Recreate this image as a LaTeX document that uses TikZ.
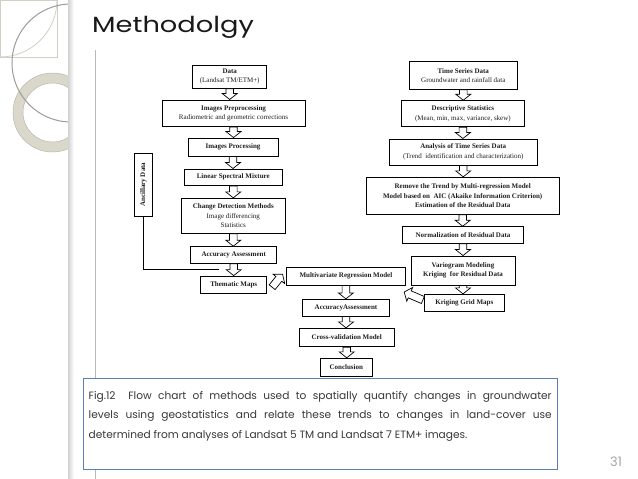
\documentclass[tikz,border=0pt]{standalone}
\usepackage{fontspec}
\usepackage{graphicx}
\setmainfont{Liberation Serif}
\newfontfamily\pop{Poppins}
\usetikzlibrary{calc}
\definecolor{capblue}{HTML}{5B80B0}
\definecolor{ringcol}{HTML}{DAD7CB}
\definecolor{ringedge}{HTML}{BDB9AA}
\definecolor{decgray}{HTML}{9C9C98}
\definecolor{declight}{HTML}{D2CFC4}
\tikzset{
  box/.style={draw=black, line width=0.9pt, fill=white, inner sep=0pt, align=center,
    font=\fontsize{7}{9.5}\selectfont, text=black!88},
  hol/.style={draw=black, fill=white, line width=0.7pt, line join=miter,
    to path={let \p1=(\tikztostart), \p2=(\tikztotarget),
      \n1={atan2(\y2-\y1,\x2-\x1)}, \n2={veclen(\x2-\x1,\y2-\y1)} in
      [shift={(\p1)}, rotate=\n1] (0,-3.8) -- ({\n2-6},-3.8) -- ({\n2-6},-7.5) -- ({\n2},0)
      -- ({\n2-6},7.5) -- ({\n2-6},3.8) -- (0,3.8) -- cycle}},
  ancline/.style={draw=black, line width=1.4pt}
}
\begin{document}
\begin{tikzpicture}[x=1pt,y=-1pt]
\useasboundingbox (0,0) rectangle (638,479);
\fill[white] (0,0) rectangle (638,479);
% decoration on the left
\begin{scope}
  \clip (0,0) rectangle (69,479);
  \fill[ringcol, even odd rule] (52.5,112.5) circle (39.5) (52.5,112.5) circle (29.5);
  \draw[ringedge, line width=0.5pt] (52.5,112.5) circle (39.5) (52.5,112.5) circle (29.5);
  \draw[declight, line width=0.7pt] (0,0) rectangle (57,57);
  \draw[declight, line width=0.8pt] (57,0) arc (0:90:57);
  \draw[decgray, line width=1pt] (71,63) circle (59);
\end{scope}
\shade[left color=gray!35, right color=white] (68,0) rectangle (74,479);
\draw[gray!55, line width=0.8pt] (95,50) -- (95,479);
% title
\node[anchor=base west, inner sep=0, font=\pop\fontsize{22}{22}\selectfont, text=black!90] (title) at (92,32) {\scalebox{1.24}[1]{Methodolgy}};
% left column
\node[box, minimum width=74, minimum height=23.3] (data) at (229.7,76.7) {\textbf{Data}\\(Landsat TM/ETM+)};
\node[box, minimum width=143, minimum height=26.7] (pre) at (233.5,113.3) {\textbf{Images Preprocessing}\\Radiometric and geometric corrections};
\node[box, minimum width=90, minimum height=18] (proc) at (233,147) {\textbf{Images Processing}};
\node[box, minimum width=98.7, minimum height=16.7] (lsm) at (233.3,177.3) {\textbf{Linear Spectral Mixture}};
\node[box, minimum width=104.7, minimum height=35] (cdm) at (233.3,215.8) {\textbf{Change Detection Methods}\\Image differencing\\Statistics};
\node[box, minimum width=86, minimum height=16.7] (acc) at (233.7,255) {\textbf{Accuracy Assessment}};
\node[box, minimum width=66, minimum height=17.3] (them) at (233.7,284.7) {\textbf{Thematic Maps}};
\node[box, minimum width=18.4, minimum height=62.7] (anc) at (143.5,184.7) {\rotatebox{90}{\textbf{Ancillary Data}}};
% right column
\node[box, minimum width=108, minimum height=27.6] (tsd) at (463.3,75.5) {\textbf{Time Series Data}\\Groundwater and rainfall data};
\node[box, minimum width=122.3, minimum height=26] (ds) at (462.9,113.7) {\textbf{Descriptive Statistics}\\(Mean, min, max, variance, skew)};
\node[box, minimum width=148.3, minimum height=26] (atsd) at (463.2,152) {\textbf{Analysis of Time Series Data}\\(Trend~ identification and characterization)};
\node[box, minimum width=193.3, minimum height=37] (rem) at (462.7,195.8) {\textbf{Remove the Trend by Multi-regression Model}\\\textbf{Model based on~ AIC (Akaike Information Criterion)}\\\textbf{Estimation of the Residual Data}};
\node[box, minimum width=120.6, minimum height=16.6] (norm) at (463,235) {\textbf{Normalization of Residual Data}};
\node[box, minimum width=104, minimum height=29] (vario) at (463,270.5) {\textbf{Variogram Modeling}\\\textbf{Kriging~ for Residual Data}};
\node[box, minimum width=80, minimum height=17.4] (kgm) at (464.3,303) {\textbf{Kriging Grid Maps}};
% centre column
\node[box, minimum width=119.7, minimum height=17.7] (multi) at (345.9,276.2) {\textbf{Multivariate Regression Model}};
\node[box, minimum width=86.6, minimum height=16.7] (acca) at (346,307.7) {\textbf{AccuracyAssessment}};
\node[box, minimum width=95.3, minimum height=18.4] (cv) at (346.7,337.5) {\textbf{Cross-validation Model}};
\node[box, minimum width=52.7, minimum height=18.4] (concl) at (346.3,367.5) {\textbf{Conclusion}};
% ancillary connector
\coordinate (ancend) at (218.5,269.5);
\draw[ancline] (anc.south) |- (ancend);
% hollow arrows
\draw[hol] (data.south) to (data.south |- pre.north);
\draw[hol] (pre.south) to (pre.south |- proc.north);
\draw[hol] (proc.south) to (proc.south |- lsm.north);
\draw[hol] (lsm.south) to (lsm.south |- cdm.north);
\draw[hol] (cdm.south) to (cdm.south |- acc.north);
\draw[hol] (acc.south) to (acc.south |- them.north);
\draw[hol] (tsd.south) to (tsd.south |- ds.north);
\draw[hol] (ds.south) to (ds.south |- atsd.north);
\draw[hol] (atsd.south) to (atsd.south |- rem.north);
\draw[hol] (rem.south) to (rem.south |- norm.north);
\draw[hol] (norm.south) to (norm.south |- vario.north);
\draw[hol] (vario.south) to (vario.south |- kgm.north);
\draw[hol] (multi.south) to (multi.south |- acca.north);
\draw[hol] (acca.south) to (acca.south |- cv.north);
\draw[hol] (cv.south) to (cv.south |- concl.north);
\draw[hol] ($(them.east)+(5,2.5)$) to ($(multi.west)+(-3,-2)$);
\draw[hol] ($(kgm.west)+(-1,-3)$) to ($(multi.south east)+(-2,6.5)$);
% caption
\node[draw=capblue, line width=1.1pt, fill=white, minimum width=474, minimum height=91, anchor=north west, inner sep=0] (capbox) at (83,378) {};
\node[anchor=north west, text width=463pt, align=justify, inner sep=0, font=\pop\fontsize{10.6}{19.5}\selectfont, text=black!78] (cap) at (88.5,391)
 {Fig.12~~Flow chart of methods used to spatially quantify changes in groundwater\linebreak levels using geostatistics and relate these trends to changes in land-cover use\linebreak determined from analyses of Landsat 5 TM and Landsat 7 ETM+ images.};
% page number
\node[font=\pop\fontsize{13}{13}\selectfont, text=gray!70] (pg) at (616,462) {31};
\end{tikzpicture}
\end{document}
